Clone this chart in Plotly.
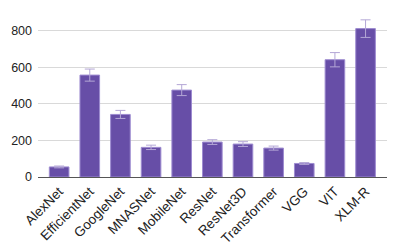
import plotly.graph_objects as go

models = ["AlexNet", "EfficientNet", "GoogleNet", "MNASNet", "MobileNet", "ResNet",
          "ResNet3D", "Transformer", "VGG", "VIT", "XLM-R"]
values = [55, 557, 342, 162, 475, 191, 180, 158, 74, 641, 811]
errors = [5, 33, 22, 12, 30, 13, 13, 11, 5, 39, 48]
y_ticks = [0, 200, 400, 600, 800]

fig = go.Figure(go.Bar(
    x=list(range(len(models))), y=values,
    marker=dict(color="#674ea7", line=dict(color="#9d8bd0", width=1)),
    error_y=dict(type="data", array=errors, color="#b4a7d6", thickness=1, width=5),
    width=0.64,
))
fig.update_layout(
    width=399, height=247,
    margin=dict(l=30, r=20, t=8, b=78, autoexpand=False),
    paper_bgcolor="white", plot_bgcolor="white",
    font=dict(family="Liberation Sans, Arial, sans-serif", size=12, color="#222222"),
    showlegend=False,
)
fig.update_xaxes(
    range=[-0.69, 10.7], tickmode="array", tickvals=list(range(len(models))),
    ticktext=models, tickangle=-45, showgrid=False, showline=False, ticks="",
    tickfont=dict(size=13.5, color="#222222"), automargin=False, ticklabelstandoff=3,
)
fig.update_yaxes(
    range=[0, 880], tickvals=y_ticks, showgrid=True, gridcolor="#d9d9d9", gridwidth=1,
    zeroline=True, zerolinecolor="#555555", zerolinewidth=1,
    tickfont=dict(size=12.5, color="#222222"), ticks="", ticklabelstandoff=5,
    automargin=False,
)
fig.write_html("out.html")
